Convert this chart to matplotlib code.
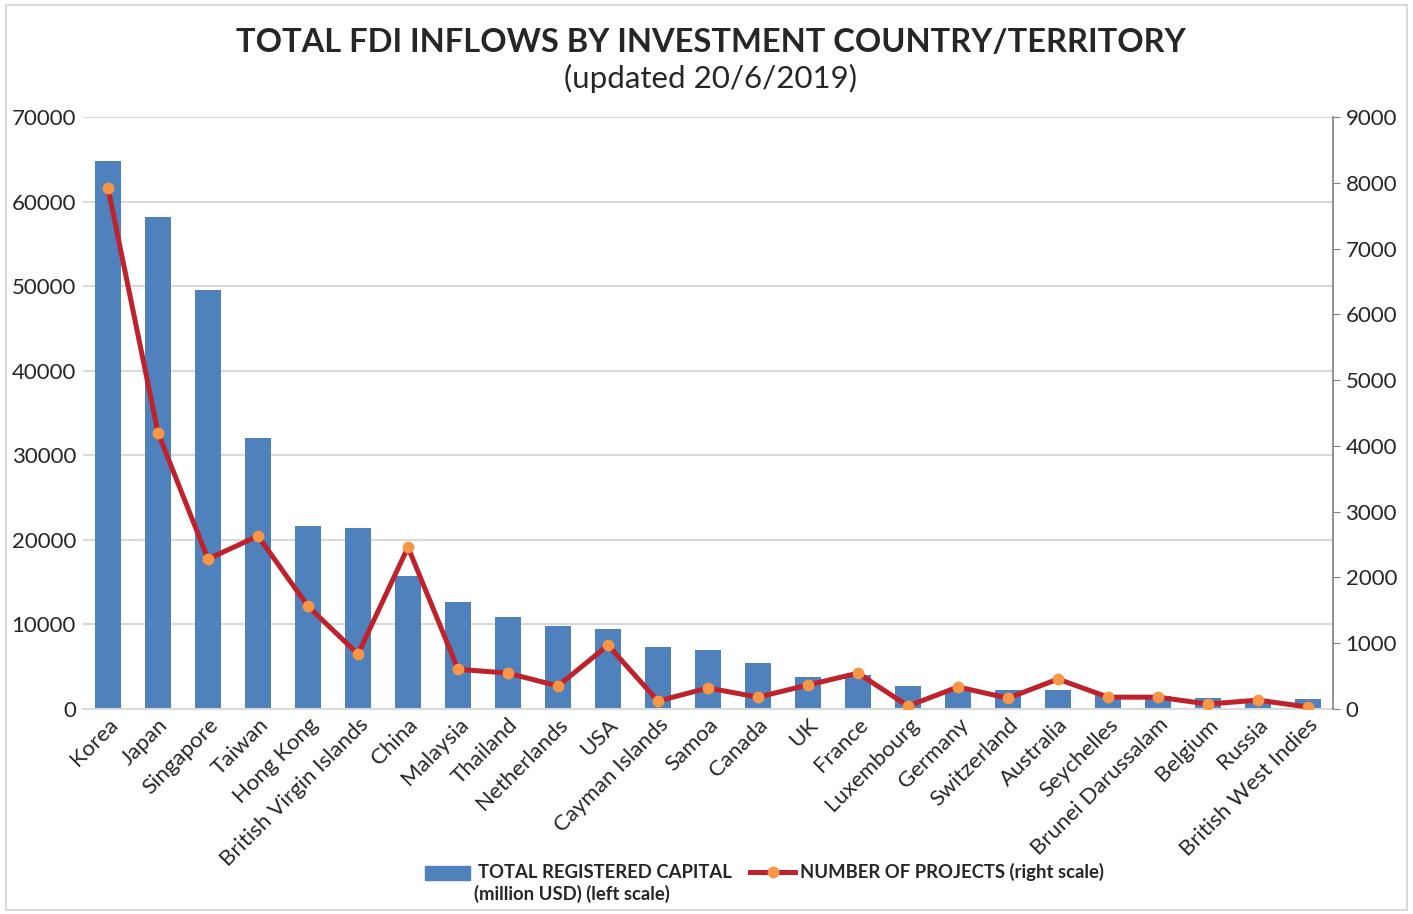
import matplotlib
matplotlib.use("Agg")
import matplotlib.pyplot as plt
from matplotlib.patches import Rectangle
from matplotlib.lines import Line2D

plt.rcParams['font.family'] = ['Lato', 'DejaVu Sans']

countries = ["Korea", "Japan", "Singapore", "Taiwan", "Hong Kong",
             "British Virgin Islands", "China", "Malaysia", "Thailand",
             "Netherlands", "USA", "Cayman Islands", "Samoa", "Canada", "UK",
             "France", "Luxembourg", "Germany", "Switzerland", "Australia",
             "Seychelles", "Brunei Darussalam", "Belgium", "Russia",
             "British West Indies"]

capital = [64800, 58200, 49500, 32100, 21600, 21400, 15700, 12600, 10900,
           9800, 9450, 7300, 6950, 5400, 3750, 4000, 2700, 2400, 2250, 2200,
           1600, 1500, 1300, 1000, 1150]

projects = [7920, 4200, 2280, 2630, 1560, 835, 2460, 605, 545, 350, 970,
            120, 320, 180, 365, 545, 45, 335, 165, 455, 180, 180, 75, 135, 30]

left_ticks = [0, 10000, 20000, 30000, 40000, 50000, 60000, 70000]
right_ticks = [0, 1000, 2000, 3000, 4000, 5000, 6000, 7000, 8000, 9000]

bar_color = "#4F81BD"
line_color = "#C0222B"
marker_color = "#F79646"
grid_color = "#D9D9D9"
text_color = "#262626"

W, H = 1413, 914
fig = plt.figure(figsize=(W / 100, H / 100), dpi=100)
ax = fig.add_axes([83 / W, 1 - 709 / H, 1250 / W, 592 / H])
ax2 = ax.twinx()

x = list(range(len(countries)))
ax.bar(x, capital, width=0.52, color=bar_color, zorder=2)
ax.set_xlim(-0.5, len(countries) - 0.5)
ax.set_ylim(0, 70000)
ax.set_yticks(left_ticks)
ax.set_yticklabels([str(t) for t in left_ticks], fontsize=16, color=text_color)
ax.yaxis.grid(True, color=grid_color, linewidth=1.5, zorder=0)
ax.set_axisbelow(True)
ax.tick_params(axis='y', length=0, pad=5)
ax.tick_params(axis='x', length=0, pad=4)
ax.set_xticks(x)
ax.set_xticklabels(countries, rotation=45, ha='right', rotation_mode='anchor',
                   fontsize=16, color=text_color)
for side in ("left", "top", "right"):
    ax.spines[side].set_visible(False)
ax.spines["bottom"].set_color(grid_color)
ax.spines["bottom"].set_linewidth(1.5)

ax2.plot(x, projects, color=line_color, linewidth=3.6, marker='o',
         markersize=7.5, markerfacecolor=marker_color,
         markeredgecolor=marker_color, zorder=3)
ax2.set_ylim(0, 9000)
ax2.set_yticks(right_ticks)
ax2.set_yticklabels([str(t) for t in right_ticks], fontsize=16, color=text_color)
ax2.tick_params(axis='y', direction='out', length=5, color="#808080", pad=4)
for side in ("left", "top", "bottom"):
    ax2.spines[side].set_visible(False)
ax2.spines["right"].set_color("#808080")
ax2.spines["right"].set_linewidth(1.2)

# Title block
fig.text(0.503, 1 - 43 / H, "TOTAL FDI INFLOWS BY INVESTMENT COUNTRY/TERRITORY",
         ha='center', va='center', fontsize=23.5, fontweight='bold',
         color=text_color)
fig.text(0.503, 1 - 78 / H, "(updated 20/6/2019)", ha='center', va='center',
         fontsize=22.5, color=text_color)

# Legend drawn in figure pixel coordinates
def fx(px):
    return px / W

def fy(py):
    return 1 - py / H

fig.patches.append(Rectangle((fx(425), fy(880)), 45 / W, 14 / H,
                             transform=fig.transFigure, facecolor=bar_color,
                             edgecolor=bar_color))
fig.text(fx(478), fy(872), "TOTAL REGISTERED CAPITAL", ha='left', va='center',
         fontsize=13.3, fontweight='bold', color=text_color)
fig.text(fx(474), fy(894), "(million USD) (left scale)", ha='left',
         va='center', fontsize=13.3, fontweight='bold', color=text_color)
fig.lines.append(Line2D([fx(750), fx(795)], [fy(872), fy(872)],
                        transform=fig.transFigure, color=line_color,
                        linewidth=3.6))
fig.lines.append(Line2D([fx(772.5)], [fy(872)], transform=fig.transFigure,
                        marker='o', markersize=7.5, color=marker_color,
                        linestyle='none'))
fig.text(fx(800), fy(872), "NUMBER OF PROJECTS (right scale)", ha='left',
         va='center', fontsize=13.3, fontweight='bold', color=text_color)

# Chart frame
fig.patches.append(Rectangle((0.004, 0.004), 0.992, 0.991,
                             transform=fig.transFigure, fill=False,
                             edgecolor=grid_color, linewidth=1.5))

fig.savefig("out.png", dpi=100)
